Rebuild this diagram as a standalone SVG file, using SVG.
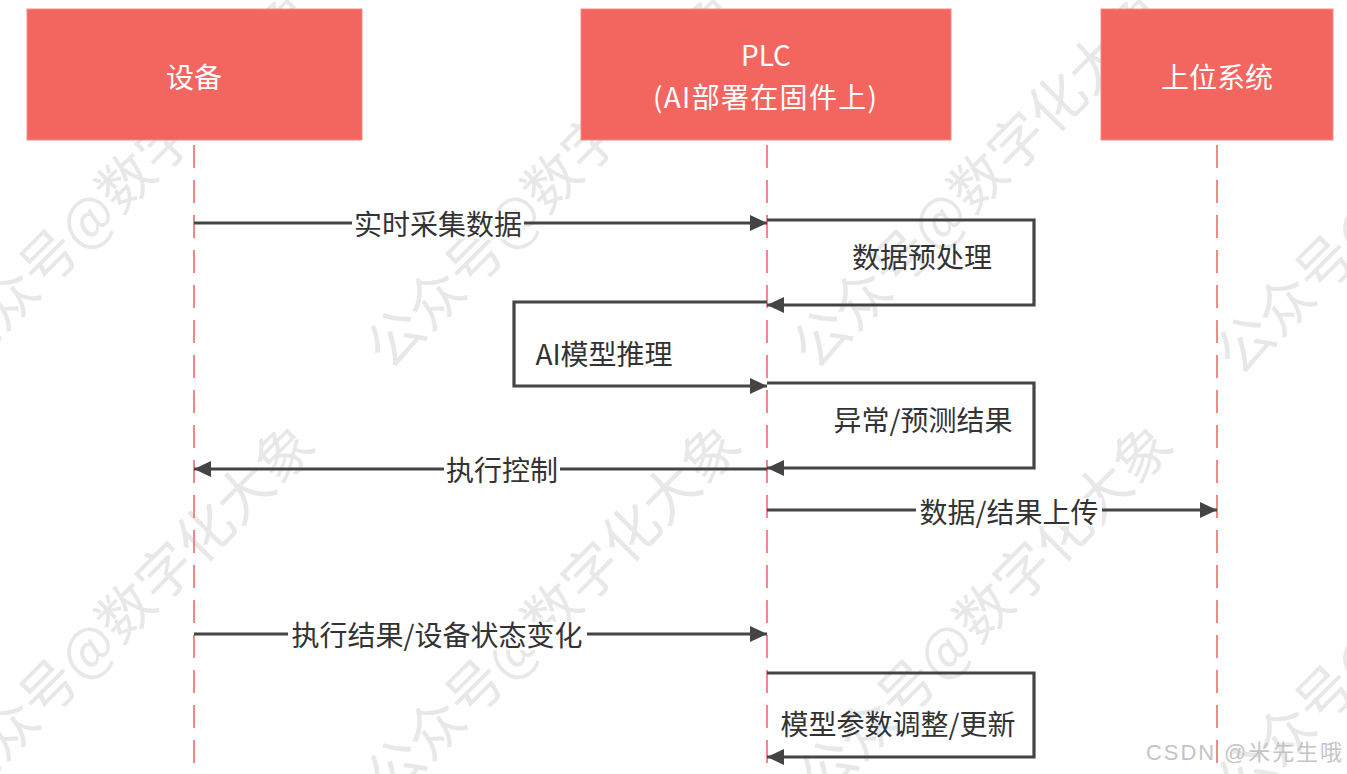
<svg xmlns="http://www.w3.org/2000/svg" width="1347" height="774" viewBox="0 0 1347 774">
<style>
.wm{font-family:"Noto Sans CJK SC","Noto Sans",sans-serif;font-size:56px;fill:#e8e8e8}
.box{fill:#F2665F;stroke:#F38A85;stroke-width:1}
.nt{font-family:"Noto Sans CJK SC","Noto Sans",sans-serif;font-size:28px;fill:#ffffff;text-anchor:middle}
.life{stroke:#F26B6B;stroke-width:1.6;stroke-dasharray:23 12;fill:none}
.msg{stroke:#444444;stroke-width:3.2;fill:none;marker-end:url(#arr)}
.lbl{font-family:"Noto Sans CJK SC","Noto Sans",sans-serif;font-size:28px;fill:#333333;text-anchor:middle}
.bg{fill:#ffffff}
</style>
<defs>
<marker id="arr" markerUnits="userSpaceOnUse" markerWidth="18" markerHeight="16" refX="17" refY="8" orient="auto">
<path d="M0,0 L17,8 L0,16 z" fill="#444444"/>
</marker>
</defs>
<rect width="1347" height="774" fill="#ffffff"/>
<g id="watermark">
<text class="wm" transform="translate(-36,372) rotate(-45)">公众号@数字化大象</text>
<text class="wm" transform="translate(390,372) rotate(-45)">公众号@数字化大象</text>
<text class="wm" transform="translate(816,372) rotate(-45)">公众号@数字化大象</text>
<text class="wm" transform="translate(1240,378) rotate(-45)">公众号@数字化大象</text>
<text class="wm" transform="translate(-36,802) rotate(-45)">公众号@数字化大象</text>
<text class="wm" transform="translate(390,802) rotate(-45)">公众号@数字化大象</text>
<text class="wm" transform="translate(822,802) rotate(-45)">公众号@数字化大象</text>
<text class="wm" transform="translate(1240,808) rotate(-45)">公众号@数字化大象</text>
</g>
<g id="lifelines">
<line class="life" x1="194" y1="145" x2="194" y2="774"/>
<line class="life" x1="767" y1="145" x2="767" y2="774"/>
<line class="life" x1="1217" y1="145" x2="1217" y2="774"/>
</g>
<g id="node-device">
<rect class="box" x="27" y="9" width="335" height="131"/>
<text class="nt" x="194" y="88">设备</text>
</g>
<g id="node-plc">
<rect class="box" x="581" y="9" width="370" height="131"/>
<text class="nt" x="766" y="66">PLC</text>
<text class="nt" x="765" y="108" textLength="224" lengthAdjust="spacing">(AI部署在固件上)</text>
</g>
<g id="node-host">
<rect class="box" x="1101" y="9" width="232" height="131"/>
<text class="nt" x="1217" y="88">上位系统</text>
</g>
<g id="connectors">
<path class="msg" d="M194,223 H767"/>
<path class="msg" d="M767,220 H1034 V305 H767"/>
<path class="msg" d="M767,302 H514 V386 H767"/>
<path class="msg" d="M767,383 H1034 V468 H767"/>
<path class="msg" d="M767,469 H194"/>
<path class="msg" d="M767,510 H1217"/>
<path class="msg" d="M194,634 H767"/>
<path class="msg" d="M767,673 H1034 V757 H767"/>
<rect class="bg" x="352" y="211" width="172" height="28"/>
<text class="lbl" x="438" y="235">实时采集数据</text>
<text class="lbl" x="922" y="268">数据预处理</text>
<text class="lbl" x="604" y="365">AI模型推理</text>
<text class="lbl" x="923" y="431">异常/预测结果</text>
<rect class="bg" x="444" y="457" width="116" height="28"/>
<text class="lbl" x="502" y="481">执行控制</text>
<rect class="bg" x="916" y="498" width="186" height="28"/>
<text class="lbl" x="1009" y="523">数据/结果上传</text>
<rect class="bg" x="288" y="622" width="299" height="28"/>
<text class="lbl" x="437" y="646">执行结果/设备状态变化</text>
<text class="lbl" x="898" y="735">模型参数调整/更新</text>
</g>
<text x="1146" y="760" font-family="'Liberation Sans','Noto Sans CJK SC',sans-serif" font-size="22" fill="#c4c4c4" textLength="196">CSDN @米先生哦</text>
</svg>
